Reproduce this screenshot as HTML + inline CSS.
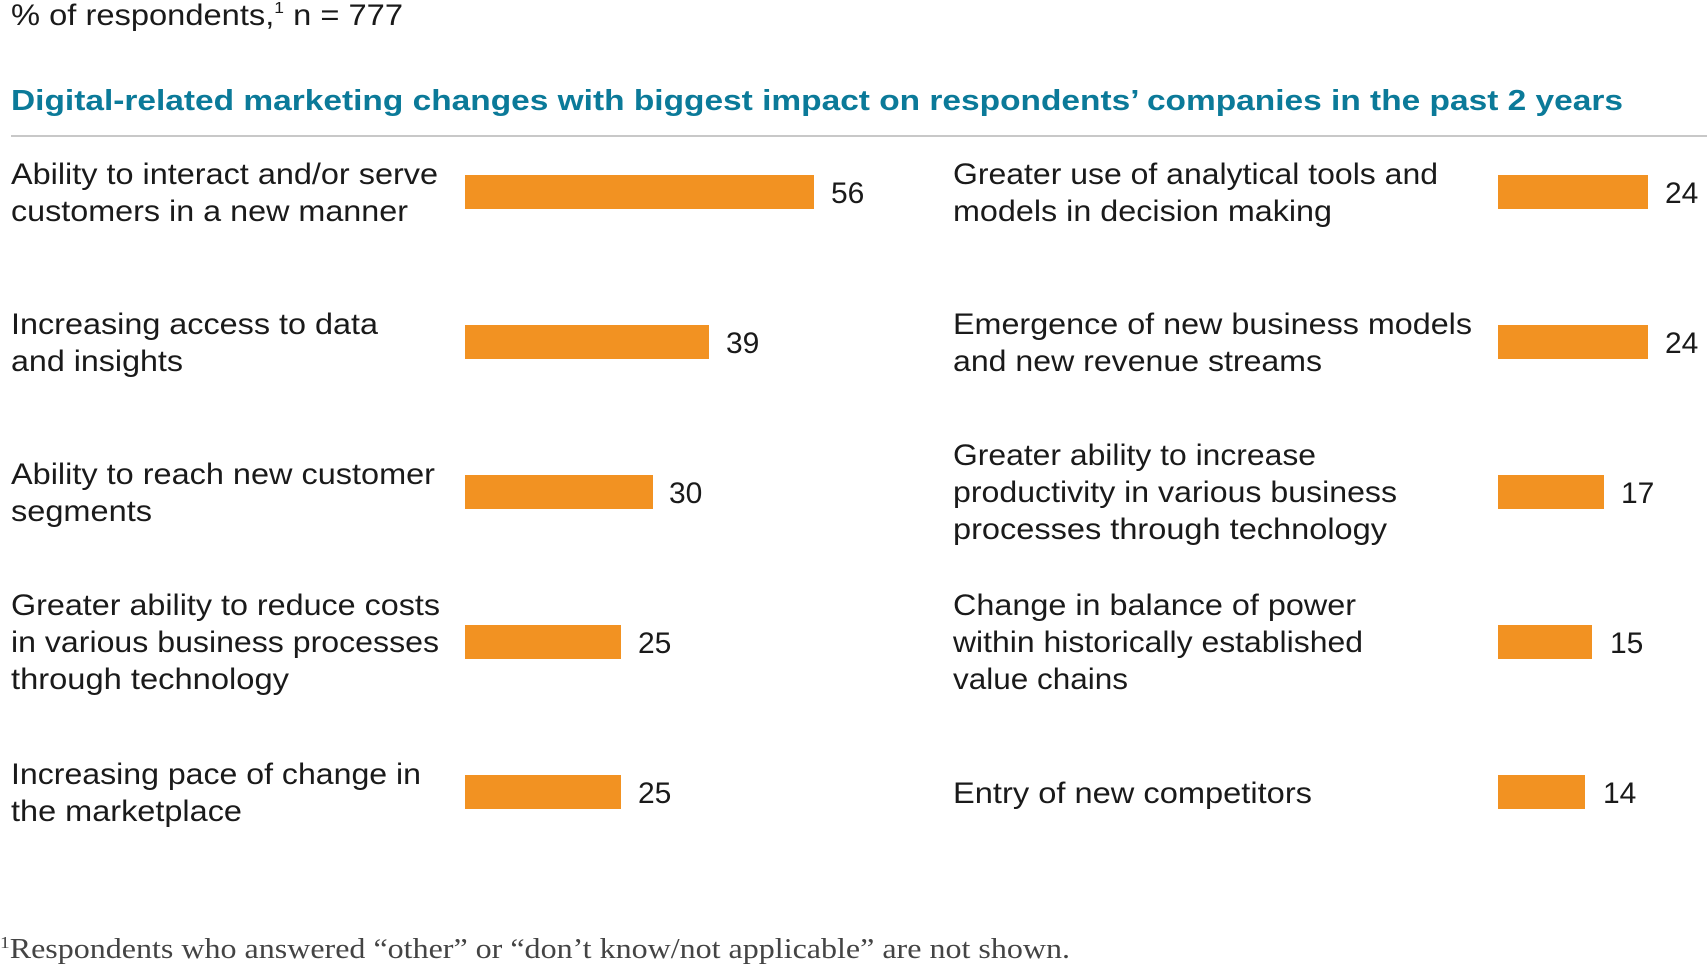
<!DOCTYPE html>
<html><head><meta charset="utf-8"><style>
html,body{margin:0;padding:0;background:#fff;}
svg{display:block;}
text{font-family:"Liberation Sans",sans-serif;fill:#1a1a1a;font-size:30px;}
</style></head><body>
<svg width="1707" height="965" viewBox="0 0 1707 965" xmlns="http://www.w3.org/2000/svg">
<text x="11" y="25" textLength="392" lengthAdjust="spacingAndGlyphs">% of respondents,<tspan font-size="16" dy="-12">1</tspan><tspan dy="12"> n = 777</tspan></text>
<text x="11" y="110" style="font-weight:bold;fill:#0b7a99;font-size:29px" textLength="1612" lengthAdjust="spacingAndGlyphs">Digital-related marketing changes with biggest impact on respondents’ companies in the past 2 years</text>
<rect x="11" y="135" width="1696" height="2" fill="#c8c8c8"/>
<g fill="#f29222">
<rect x="465" y="175" width="349" height="34"/>
<rect x="465" y="325" width="244" height="34"/>
<rect x="465" y="475" width="188" height="34"/>
<rect x="465" y="625" width="156" height="34"/>
<rect x="465" y="775" width="156" height="34"/>
<rect x="1498" y="175" width="150" height="34"/>
<rect x="1498" y="325" width="150" height="34"/>
<rect x="1498" y="475" width="106" height="34"/>
<rect x="1498" y="625" width="94" height="34"/>
<rect x="1498" y="775" width="87" height="34"/>
</g>
<g>
<text x="831" y="203">56</text>
<text x="726" y="353">39</text>
<text x="669" y="503">30</text>
<text x="638" y="653">25</text>
<text x="638" y="803">25</text>
<text x="1665" y="203">24</text>
<text x="1665" y="353">24</text>
<text x="1621" y="503">17</text>
<text x="1610" y="653">15</text>
<text x="1603" y="803">14</text>
</g>
<g style="font-size:30px" lengthAdjust="spacingAndGlyphs">
<text x="11" y="184" textLength="427" lengthAdjust="spacingAndGlyphs">Ability to interact and/or serve</text>
<text x="11" y="221" textLength="397" lengthAdjust="spacingAndGlyphs">customers in a new manner</text>
<text x="11" y="334" textLength="367" lengthAdjust="spacingAndGlyphs">Increasing access to data</text>
<text x="11" y="371" textLength="172" lengthAdjust="spacingAndGlyphs">and insights</text>
<text x="11" y="484" textLength="424" lengthAdjust="spacingAndGlyphs">Ability to reach new customer</text>
<text x="11" y="521" textLength="141" lengthAdjust="spacingAndGlyphs">segments</text>
<text x="11" y="615" textLength="429" lengthAdjust="spacingAndGlyphs">Greater ability to reduce costs</text>
<text x="11" y="652" textLength="428" lengthAdjust="spacingAndGlyphs">in various business processes</text>
<text x="11" y="689" textLength="278" lengthAdjust="spacingAndGlyphs">through technology</text>
<text x="11" y="784" textLength="410" lengthAdjust="spacingAndGlyphs">Increasing pace of change in</text>
<text x="11" y="821" textLength="231" lengthAdjust="spacingAndGlyphs">the marketplace</text>
<text x="953" y="184" textLength="485" lengthAdjust="spacingAndGlyphs">Greater use of analytical tools and</text>
<text x="953" y="221" textLength="379" lengthAdjust="spacingAndGlyphs">models in decision making</text>
<text x="953" y="334" textLength="519" lengthAdjust="spacingAndGlyphs">Emergence of new business models</text>
<text x="953" y="371" textLength="369" lengthAdjust="spacingAndGlyphs">and new revenue streams</text>
<text x="953" y="465" textLength="363" lengthAdjust="spacingAndGlyphs">Greater ability to increase</text>
<text x="953" y="502" textLength="444" lengthAdjust="spacingAndGlyphs">productivity in various business</text>
<text x="953" y="539" textLength="434" lengthAdjust="spacingAndGlyphs">processes through technology</text>
<text x="953" y="615" textLength="403" lengthAdjust="spacingAndGlyphs">Change in balance of power</text>
<text x="953" y="652" textLength="410" lengthAdjust="spacingAndGlyphs">within historically established</text>
<text x="953" y="689" textLength="175" lengthAdjust="spacingAndGlyphs">value chains</text>
<text x="953" y="803" textLength="359" lengthAdjust="spacingAndGlyphs">Entry of new competitors</text>
</g>
<text x="0" y="958" style="font-family:'Liberation Serif',serif;font-size:28px;fill:#444" textLength="1070" lengthAdjust="spacingAndGlyphs"><tspan font-size="17" dy="-10">1</tspan><tspan dy="10">Respondents who answered “other” or “don’t know/not applicable” are not shown.</tspan></text>
</svg>
</body></html>
